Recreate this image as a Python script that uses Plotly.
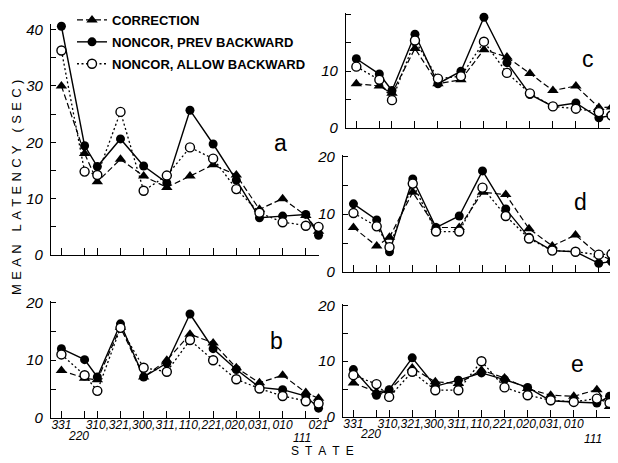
import plotly.graph_objects as go

# ---------------- data ----------------
STATES = ["331", "220", "310", "321", "300", "311", "110", "221", "020", "031", "010", "111", "021"]
# labels written on the first line under the axis ("" where the label sits on the lower line)
STATE_TICKTEXT = ["331", "", "310,", "321,", "300,", "311,", "110,", "221,",
                  "020,", "031,", "010", "", "021"]
# the two labels that are staggered onto a lower line
LOWER_LABELS = ["220", "111"]
# axis placement of each state along the x axis (states are not evenly spaced in the original)
STATE_POS = [0, 1, 1.55, 2.55, 3.55, 4.55, 5.55, 6.55, 7.55, 8.55, 9.55, 10.55, 11.1]

SERIES_NAMES = ["CORRECTION", "NONCOR, PREV BACKWARD", "NONCOR, ALLOW BACKWARD"]

A_CORR = [30, 18, 13, 17, 14, 12, 14, 16, 14.2, 8.1, 10, 7, 4.2]
A_PREV = [40.6, 19.4, 15.7, 20.6, 15.8, 12.8, 25.7, 19.7, 13.3, 6.6, 6.9, 7.2, 3.5]
A_ALLOW = [36.3, 14.8, 14.2, 25.4, 11.4, 14.1, 19.1, 17.1, 11.7, 7.5, 5.8, 5.2, 5.0]

B_CORR = [8.2, 6.9, 6.6, 15.7, 7.1, 10, 14.5, 13, 8.7, 6.1, 7.4, 4.4, 3.4]
B_PREV = [12, 10.1, 7.1, 16.3, 7.1, 9.5, 18, 12, 8.4, 5.3, 4.9, 3.8, 1.7]
B_ALLOW = [11, 7.4, 4.7, 15.6, 8.7, 8, 13.5, 10, 6.7, 5.1, 3.8, 2.9, 2.5]

C_CORR = [7.8, 7.4, 6.1, 14, 7.8, 8.5, 13.8, 12.5, 9.6, 6.6, 7.4, 3.6, 3.7]
C_PREV = [12.2, 9.5, 6.6, 16.5, 7.8, 10, 19.5, 11.5, 5.9, 3.8, 4.4, 1.8, 2.2]
C_ALLOW = [10.8, 8.5, 4.9, 15.4, 8.7, 9.1, 15.2, 9.7, 6.1, 3.8, 3.4, 2.8, 2.2]

D_CORR = [7.7, 4.5, 6, 13.8, 7.7, 7.7, 13.8, 13.4, 7.5, 4.5, 6.4, 3, 2.1]
D_PREV = [11.8, 9.0, 3.5, 16.1, 7.7, 9.7, 17.5, 10.9, 6, 3.7, 3.5, 1.5, 1.8]
D_ALLOW = [10.2, 7.9, 4.3, 15.3, 7.0, 7.0, 14.6, 9.7, 5.8, 3.7, 3.5, 3.0, 3.1]

E_CORR = [6.1, 4.5, 4.8, 8.8, 6.3, 6, 8.4, 7, 5.1, 3.9, 3.7, 4.9, 1.9]
E_PREV = [8.5, 3.9, 4.9, 10.6, 5.5, 6.6, 7.9, 6.7, 5.3, 2.9, 2.7, 2.5, 3.7]
E_ALLOW = [7.5, 5.9, 3.6, 8.1, 4.8, 4.8, 10, 5.3, 3.9, 3.0, 2.7, 3.3, 2.5]

PANEL_LABELS = ["a", "b", "c", "d", "e"]

# ---------------- layout ----------------
# the page body adds an 8px offset, so the figure is sized to the visible area
OFF = 8
W, H = 618 - OFF, 463 - OFF

def px_x(p):
    return (p - OFF) / W

def px_y(p):
    return 1 - (p - OFF) / H

# panel: (series, label, x-domain px, y-domain px (bottom, top), yrange max, tick max, show x labels,
#         label pos px, lower-label y px)
panels = [
    ((A_CORR, A_PREV, A_ALLOW), "a", (51, 319), (255, 24), 41, 40, False, (280, 143), None),
    ((B_CORR, B_PREV, B_ALLOW), "b", (51, 319), (418, 301), 20.25, 20, True, (276, 341), (436, 438)),
    ((C_CORR, C_PREV, C_ALLOW), "c", (346, 612), (128, 13), 20.25, 20, False, (588, 59), None),
    ((D_CORR, D_PREV, D_ALLOW), "d", (343, 612), (272, 155), 20.25, 20, False, (580, 202), None),
    ((E_CORR, E_PREV, E_ALLOW), "e", (343, 610), (417, 304), 20.25, 20, True, (577, 364), (434, 439)),
]

styles = [
    dict(line=dict(color="black", width=1.2, dash="6px,3px"),
         marker=dict(symbol="triangle-up", size=10, color="black")),
    dict(line=dict(color="black", width=1.4, dash="solid"),
         marker=dict(symbol="circle", size=9, color="black")),
    dict(line=dict(color="black", width=1.3, dash="2px,2.5px"),
         marker=dict(symbol="circle", size=9, color="white", line=dict(color="black", width=1.4))),
]

ytickfont = dict(family="Liberation Sans, Arial", size=15, color="black", style="italic")
xtickfont = dict(family="Liberation Sans, Arial", size=12, color="black", style="italic")

fig = go.Figure()
layout = dict(
    width=W, height=H,
    margin=dict(l=0, r=0, t=0, b=0, autoexpand=False),
    paper_bgcolor="white", plot_bgcolor="white",
    showlegend=True,
    legend=dict(x=px_x(72), y=px_y(5), xanchor="left", yanchor="top",
                bgcolor="rgba(0,0,0,0)", traceorder="grouped", tracegroupgap=2,
                font=dict(family="Liberation Sans, Arial", size=13, color="black", weight="bold")),
)
annotations = []

for i, (series, label, xd, yd, yr, ymax, showx, lpos, lower) in enumerate(panels):
    n = "" if i == 0 else str(i + 1)
    xa, ya = "x" + n, "y" + n
    for s, (vals, name, st) in enumerate(zip(series, SERIES_NAMES, styles)):
        fig.add_trace(go.Scatter(
            x=STATE_POS, y=vals, mode="lines+markers", name=name,
            line=st["line"], marker=st["marker"], xaxis=xa, yaxis=ya,
            legendgroup=name, showlegend=(i == 0), cliponaxis=False,
        ))
    tv = list(range(0, ymax + 1, 5))
    layout["xaxis" + n] = dict(
        domain=[px_x(xd[0]), px_x(xd[1])], anchor=ya,
        range=[-0.45, 11.12], showgrid=False, zeroline=False,
        showline=True, linecolor="black", linewidth=1.2,
        ticks="inside", ticklen=7, tickwidth=1, tickcolor="black",
        tickvals=STATE_POS, ticktext=STATE_TICKTEXT if showx else [""] * len(STATES),
        showticklabels=showx, tickfont=xtickfont, tickangle=0, ticklabelstandoff=-5,
    )
    layout["yaxis" + n] = dict(
        domain=[px_y(yd[0]), px_y(yd[1])], anchor=xa,
        range=[0, yr], showgrid=False, zeroline=False,
        showline=True, linecolor="black", linewidth=1.2,
        ticks="inside", ticklen=5, tickwidth=1, tickcolor="black",
        tickvals=tv, ticktext=[str(v) if v % 10 == 0 else "" for v in tv],
        tickfont=ytickfont, ticklabelstandoff=4,
    )
    annotations.append(dict(
        text=label, x=px_x(lpos[0]), y=px_y(lpos[1]), xref="paper", yref="paper",
        showarrow=False, xanchor="center", yanchor="middle",
        font=dict(family="Liberation Sans, Arial", size=23, color="black"),
    ))
    if lower:
        for lab, idx, ypx, xs in zip(LOWER_LABELS, (1, 11), lower, (-6, -4)):
            annotations.append(dict(
                text=lab, x=STATE_POS[idx], xref=xa, y=px_y(ypx), yref="paper",
                showarrow=False, xanchor="center", yanchor="middle", xshift=xs,
                font=xtickfont,
            ))

sp = "\u2004"
annotations.append(dict(
    text=sp.join("MEAN") + sp * 3 + sp.join("LATENCY") + sp * 3 + sp.join("(SEC)"),
    x=px_x(17), y=px_y(188), xref="paper", yref="paper", showarrow=False,
    textangle=-90, xanchor="center", yanchor="middle",
    font=dict(family="Liberation Sans, Arial", size=13, color="black"),
))
annotations.append(dict(
    text="\u2002".join("STATE"),
    x=px_x(322), y=px_y(451), xref="paper", yref="paper", showarrow=False,
    xanchor="center", yanchor="middle",
    font=dict(family="Liberation Sans, Arial", size=12, color="black"),
))
layout["annotations"] = annotations
fig.update_layout(**layout)
fig.write_html("out.html")
